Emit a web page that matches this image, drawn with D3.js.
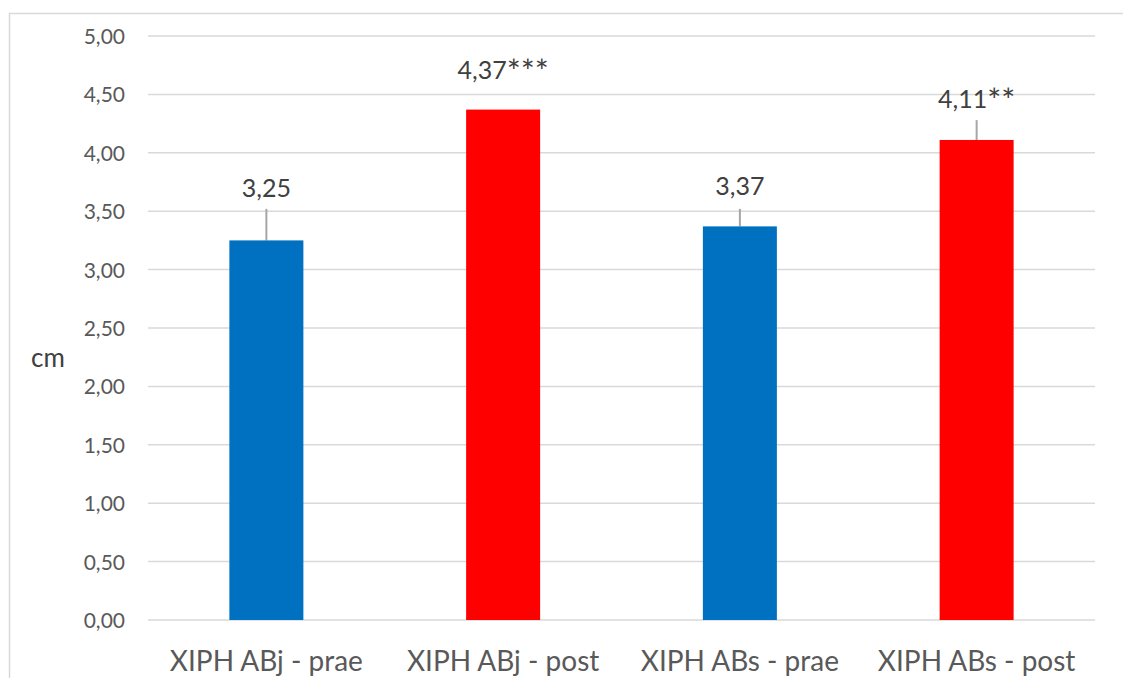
<!DOCTYPE html>
<html>
<head>
<meta charset="utf-8">
<script src="https://cdn.jsdelivr.net/npm/d3@7"></script>
<style>
  html, body { margin: 0; padding: 0; background: #fff; }
  svg { display: block; font-family: Lato, "Open Sans", sans-serif; }
</style>
</head>
<body>
<svg id="chart" width="1123" height="678"></svg>
<script>
const categories = ["XIPH ABj - prae", "XIPH ABj - post", "XIPH ABs - prae", "XIPH ABs - post"];
const values = [3.25, 4.37, 3.37, 4.11];
const errors = [0.27, 0, 0.15, 0.17];
const labels = ["3,25", "4,37***", "3,37", "4,11**"];
const colors = ["#0070C0", "#FF0000", "#0070C0", "#FF0000"];
const yTicks = [0, 0.5, 1, 1.5, 2, 2.5, 3, 3.5, 4, 4.5, 5];
const yTitle = "cm";

(function () {
const svg = d3.select("#chart");

// outer chart border (extends beyond the visible frame at right/bottom)
svg.append("rect")
  .attr("x", 9.5).attr("y", 13.5)
  .attr("width", 1300).attr("height", 1000)
  .attr("fill", "none").attr("stroke", "#d9d9d9").attr("stroke-width", 1.5);

const pLeft = 148, pRight = 1095, pTop = 36, pBottom = 620;

const x = d3.scaleBand().domain(categories).range([pLeft, pRight]).paddingInner(0).paddingOuter(0);
const y = d3.scaleLinear().domain([0, 5]).range([pBottom, pTop]);

// gridlines
svg.append("g")
  .selectAll("line").data(yTicks).join("line")
  .attr("x1", pLeft).attr("x2", pRight)
  .attr("y1", d => y(d)).attr("y2", d => y(d))
  .attr("stroke", "#d9d9d9").attr("stroke-width", 1.5);

// y axis labels
const fmt = d => d.toFixed(2).replace(".", ",");
const yAxis = d3.axisLeft(y).tickValues(yTicks).tickFormat(fmt).tickSize(0).tickPadding(0);
const gy = svg.append("g").attr("transform", `translate(125,0)`).call(yAxis);
gy.select(".domain").remove();
gy.selectAll("text")
  .attr("font-size", 21).attr("fill", "#595959")
  .attr("font-family", "Lato, 'Open Sans', sans-serif")
  .attr("dy", "0.36em");

// y title
svg.append("text")
  .attr("x", 31).attr("y", 367)
  .attr("font-size", 26).attr("fill", "#404040")
  .text(yTitle);

const barW = 74;
const data = categories.map((c, i) => ({c, v: values[i], e: errors[i], l: labels[i], col: colors[i]}));

// error bars (plus only)
svg.append("g").selectAll("line").data(data.filter(d => d.e > 0)).join("line")
  .attr("x1", d => x(d.c) + x.bandwidth() / 2)
  .attr("x2", d => x(d.c) + x.bandwidth() / 2)
  .attr("y1", d => y(d.v))
  .attr("y2", d => y(d.v + d.e))
  .attr("stroke", "#a6a6a6").attr("stroke-width", 2);

// bars
svg.append("g").selectAll("rect").data(data).join("rect")
  .attr("x", d => x(d.c) + x.bandwidth() / 2 - barW / 2)
  .attr("y", d => y(d.v))
  .attr("width", barW)
  .attr("height", d => y(0) - y(d.v))
  .attr("fill", d => d.col);

// data labels (number + significance stars)
const lbl = svg.append("g").selectAll("text").data(data).join("text")
  .attr("x", d => x(d.c) + x.bandwidth() / 2)
  .attr("y", d => Math.min(y(d.v) - 31, y(d.v + d.e) - 12))
  .attr("text-anchor", "middle")
  .attr("font-size", 25).attr("fill", "#404040");
lbl.append("tspan").text(d => d.l.replace(/\*+$/, ""));
lbl.append("tspan")
  .attr("font-size", 33).attr("dy", 4)
  .text(d => (d.l.match(/\*+$/) || [""])[0]);

// category labels
svg.append("g").selectAll("text").data(categories).join("text")
  .attr("x", d => x(d) + x.bandwidth() / 2)
  .attr("y", 671)
  .attr("text-anchor", "middle")
  .attr("font-size", 28).attr("fill", "#595959")
  .text(d => d);
})();
</script>
</body>
</html>
